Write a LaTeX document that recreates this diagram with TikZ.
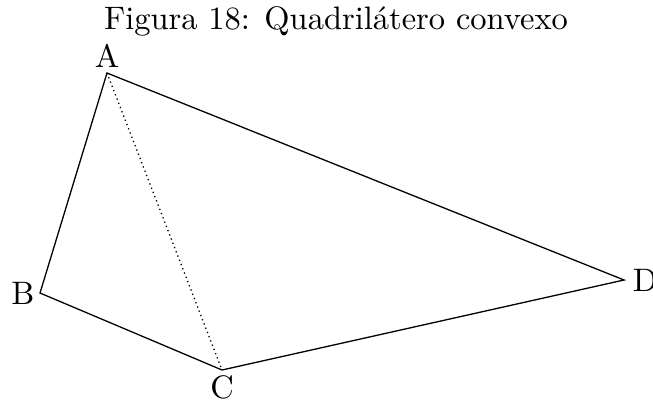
\documentclass[tikz,border=0pt]{standalone}
\usepackage{tikz}
\usetikzlibrary{positioning}
\tikzset{
	rotulo/.style={inner sep=1.5pt, text=black},
	lado/.style={thin},
	diagonal/.style={thin, densely dotted}
}

\begin{document}
\begin{tikzpicture}[x=0.3077pt, y=-0.3077pt]
				\useasboundingbox (0,0) rectangle (653,399);
				\node[anchor=base] (titulo) at (336,30) {Figura 18: Quadril\'atero convexo};
				\coordinate (A) at (107,73);
				\coordinate (B) at (40,293);
				\coordinate (C) at (222,370);
				\coordinate (D) at (624,280);
				\node[rotulo,above=0pt of A] (lA) {A};
				\node[rotulo,left=0pt of B]  (lB) {B};
				\node[rotulo,below=0pt of C] (lC) {C};
				\node[rotulo,right=1pt of D] (lD) {D};
				\draw[lado] (A) -- (B) -- (C) -- (D) -- cycle;
				\draw[diagonal] (A) -- (C);
			\end{tikzpicture}
\end{document}
